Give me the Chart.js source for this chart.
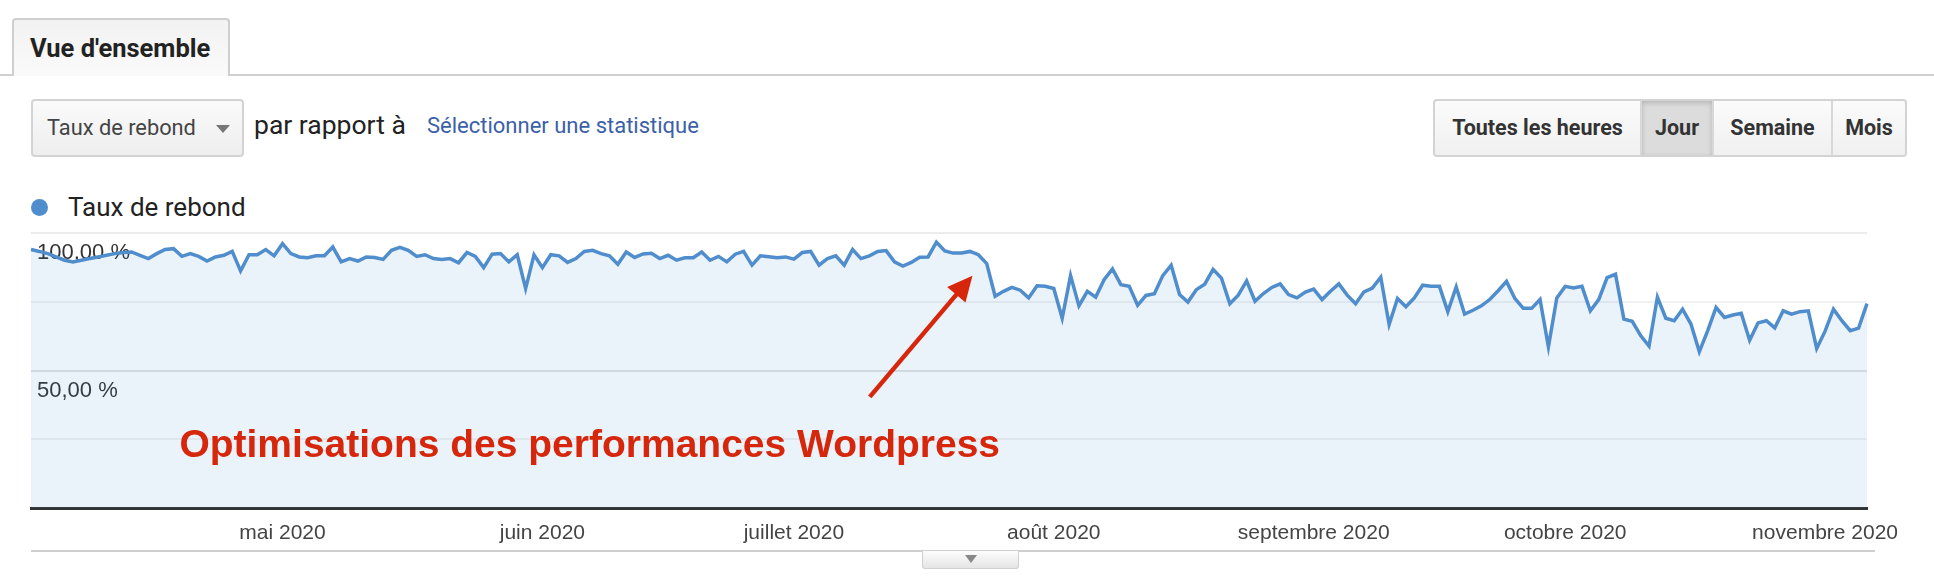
<!DOCTYPE html>
<html>
<head>
<meta charset="utf-8">
<title>Taux de rebond</title>
<script src="https://cdn.jsdelivr.net/npm/chart.js@4.4.1/dist/chart.umd.min.js"></script>
<style>
	body { margin: 0; width: 1934px; height: 586px; background: #fff; position: relative; overflow: hidden; font-family: Roboto, Arial, sans-serif; }
	.rule { position: absolute; left: 0; top: 74px; width: 1934px; height: 2px; background: #cfcfcf; }
	.tab { position: absolute; left: 12px; top: 18px; width: 218px; height: 58px; box-sizing: border-box; border: 2px solid #cfcfcf; border-bottom: none; border-radius: 4px 4px 0 0; background: linear-gradient(#f2f2f2, #fafafa); font-weight: bold; font-size: 25.5px; color: #222; line-height: 56px; padding-left: 16px; }
	.select { position: absolute; left: 31px; top: 99px; width: 213px; height: 58px; box-sizing: border-box; border: 2px solid #d3d3d3; border-radius: 4px; background: linear-gradient(#fafafa, #eeeeee); font-size: 21.8px; color: #444; line-height: 54px; padding-left: 14px; }
	.caret { position: absolute; left: 183px; top: 24px; width: 0; height: 0; border-left: 7px solid transparent; border-right: 7px solid transparent; border-top: 8px solid #777; }
	.par { position: absolute; left: 254px; top: 109px; font-size: 26.5px; color: #222; line-height: 32px; }
	.lien { position: absolute; left: 427px; top: 111px; font-size: 22px; color: #3b60a9; line-height: 30px; }
	.groupe { position: absolute; left: 1433px; top: 99px; height: 58px; display: flex; border: 2px solid #d3d3d3; border-radius: 4px; box-sizing: border-box; background: linear-gradient(#fbfbfb, #f0f0f0); }
	.groupe div { height: 54px; line-height: 54px; text-align: center; font-weight: bold; font-size: 21.5px; color: #333; border-left: 2px solid #d8d8d8; box-sizing: border-box; }
	.groupe div:first-child { border-left: none; }
	.groupe .actif { background: #dcdcdc; box-shadow: inset 0 2px 5px rgba(0,0,0,0.18); }
	.legende { position: absolute; left: 68px; top: 191px; font-size: 26px; color: #222; line-height: 32px; }
	.pt { position: absolute; left: 31px; top: 199px; width: 17px; height: 17px; border-radius: 50%; background: #508dcc; }
	#chart { position: absolute; left: 0; top: 225px; }
	.bas { position: absolute; left: 31px; top: 550px; width: 1844px; height: 2px; background: #cfcfcf; }
	.poignee { position: absolute; left: 922px; top: 551px; width: 97px; height: 18px; box-sizing: border-box; border: 1px solid #d0d0d0; border-top: none; border-radius: 0 0 3px 3px; background: linear-gradient(#fdfdfd, #e4e4e4); }
	.poignee span { position: absolute; left: 42px; top: 4px; width: 0; height: 0; border-left: 6px solid transparent; border-right: 6px solid transparent; border-top: 8px solid #888; }
</style>
</head>
<body>
	<div class="rule"></div>
	<div class="tab">Vue d'ensemble</div>
	<div class="select">Taux de rebond<span class="caret"></span></div>
	<div class="par">par rapport à</div>
	<div class="lien">Sélectionner une statistique</div>
	<div class="groupe">
		<div style="width:205px">Toutes les heures</div>
		<div class="actif" style="width:72px">Jour</div>
		<div style="width:119px">Semaine</div>
		<div style="width:74px">Mois</div>
	</div>
	<span class="pt"></span>
	<div class="legende">Taux de rebond</div>
	<canvas id="chart" width="1934" height="323"></canvas>
	<div class="bas"></div>
	<div class="poignee"><span></span></div>

	<script>
		// taux de rebond journalier (%), du 1er avril au 6 novembre 2020
		var tauxRebond = [
			94.0, 93.3, 92.5, 91.3, 90.1, 89.5, 90.1, 90.7, 91.3, 91.9,
			92.5, 92.9, 93.1, 91.9, 90.7, 92.5, 94.0, 94.3, 91.5, 92.5,
			91.5, 89.8, 91.3, 91.9, 93.3, 86.2, 92.1, 92.1, 94.0, 91.7,
			96.1, 92.5, 91.3, 91.0, 91.7, 91.7, 94.9, 89.5, 90.7, 89.8,
			91.3, 91.1, 90.4, 93.7, 94.8, 93.7, 91.5, 92.1, 90.7, 90.4,
			90.7, 89.2, 92.9, 91.5, 87.4, 92.3, 92.5, 89.5, 92.1, 79.8,
			92.1, 87.4, 92.1, 91.7, 89.3, 90.7, 93.3, 93.7, 92.5, 91.7,
			88.6, 93.1, 91.1, 92.4, 92.6, 90.7, 91.9, 90.1, 91.0, 91.0,
			93.1, 90.1, 91.5, 89.5, 92.3, 93.3, 88.3, 91.7, 91.4, 91.0,
			91.3, 90.5, 92.9, 93.3, 88.3, 90.7, 91.7, 88.3, 94.0, 90.7,
			91.7, 93.3, 93.6, 89.5, 88.0, 89.3, 91.2, 91.3, 96.7, 93.5,
			92.7, 92.7, 93.3, 92.1, 88.9, 77.0, 78.8, 80.2, 79.2, 76.4,
			80.8, 80.6, 79.8, 69.0, 84.5, 73.5, 78.8, 76.7, 83.0, 86.9,
			81.2, 80.6, 73.7, 77.3, 77.9, 84.5, 88.3, 77.6, 74.9, 79.4,
			81.4, 86.8, 83.6, 74.3, 77.4, 82.6, 75.2, 78.0, 80.2, 81.5,
			77.6, 76.4, 78.5, 79.6, 75.8, 78.8, 81.5, 77.4, 74.3, 78.6,
			80.0, 83.9, 66.7, 76.2, 73.2, 76.4, 81.0, 80.6, 80.6, 71.4,
			80.4, 70.5, 71.9, 73.5, 75.8, 79.0, 82.4, 76.2, 72.6, 72.6,
			75.8, 58.6, 76.4, 80.6, 80.0, 80.6, 71.7, 75.8, 83.8, 85.0,
			68.7, 67.9, 62.7, 58.9, 76.7, 69.0, 68.1, 72.3, 66.9, 56.8,
			64.5, 72.9, 69.3, 70.2, 70.8, 61.0, 67.3, 68.1, 65.5, 71.7,
			70.5, 71.4, 71.7, 58.0, 64.3, 72.3, 68.1, 64.5, 65.4, 74.3
		];
		var premierJour = '2020-04-01';
		var moisNoms = ['mai 2020', 'juin 2020', 'juillet 2020', 'août 2020', 'septembre 2020', 'octobre 2020', 'novembre 2020'];
		var moisDebuts = ['2020-05-01', '2020-06-01', '2020-07-01', '2020-08-01', '2020-09-01', '2020-10-01', '2020-11-01'];
		var yLabels = { 100: '100,00 %', 50: '50,00 %' };

		var jours = [];
		var d0 = new Date(premierJour + 'T00:00:00Z');
		for (var i = 0; i < tauxRebond.length; i++) {
			var d = new Date(d0.getTime() + i * 86400000);
			jours.push(d.toISOString().slice(0, 10));
		}

		var bleu = '#508dcc';

		// flèche + texte rouge posés sur les échelles
		var annotation = {
			id: 'annotation',
			afterDraw: function(chart) {
				var ctx = chart.ctx, x = chart.scales.x, y = chart.scales.y;
				ctx.save();
				ctx.fillStyle = '#d6270c';
				ctx.strokeStyle = '#d6270c';
				ctx.font = 'bold 39px Arial, "Liberation Sans", sans-serif';
				ctx.textBaseline = 'alphabetic';
				ctx.fillText('Optimisations des performances Wordpress', x.getPixelForValue(17.7), y.getPixelForValue(18.5));

				var x1 = x.getPixelForValue(100.05), y1 = y.getPixelForValue(40.4);
				var x2 = x.getPixelForValue(112.3), y2 = y.getPixelForValue(84.5);
				var dx = x2 - x1, dy = y2 - y1, len = Math.sqrt(dx * dx + dy * dy);
				var ux = dx / len, uy = dy / len;
				var bx = x2 - ux * 25, by = y2 - uy * 25;
				ctx.lineWidth = 4.5;
				ctx.beginPath();
				ctx.moveTo(x1, y1);
				ctx.lineTo(bx + ux * 3, by + uy * 3);
				ctx.stroke();
				ctx.beginPath();
				ctx.moveTo(x2, y2);
				ctx.lineTo(bx - uy * 12, by + ux * 12);
				ctx.lineTo(bx + uy * 12, by - ux * 12);
				ctx.closePath();
				ctx.fill();
				ctx.restore();
			}
		};

		var canvas = document.getElementById('chart').getContext('2d');
		window.ligne = new Chart(canvas, {
			type: 'line',
			data: {
				labels: jours,
				datasets: [{
					label: 'Taux de rebond',
					data: tauxRebond,
					borderColor: bleu,
					backgroundColor: 'rgba(77,144,205,0.11)',
					borderWidth: 3.5,
					pointRadius: 0,
					tension: 0,
					fill: 'origin'
				}]
			},
			options: {
				responsive: false,
				animation: false,
				devicePixelRatio: 1,
				layout: { padding: { left: 31, right: 67, top: 8, bottom: 0 } },
				plugins: {
					legend: { display: false },
					tooltip: { enabled: false }
				},
				scales: {
					x: {
						offset: false,
						grid: { display: false, drawTicks: false },
						border: { display: true, color: '#333', width: 3 },
						ticks: {
							autoSkip: false,
							maxRotation: 0,
							padding: 13,
							color: '#444',
							font: { family: 'Arial, "Liberation Sans", sans-serif', size: 21 },
							callback: function(value, index) {
								var j = moisDebuts.indexOf(jours[index]);
								return j >= 0 ? moisNoms[j] : '';
							}
						},
						afterFit: function(s) { s.height = 40; s.paddingLeft = 0; s.paddingRight = 0; }
					},
					y: {
						min: 0,
						max: 100,
						z: 1,
						border: { display: false },
						grid: {
							z: -1,
							drawTicks: false,
							lineWidth: 2,
							color: function(c) {
								if (c.tick.value === 0) return 'rgba(0,0,0,0)';
								if (c.tick.value === 100) return '#ececec';
								if (c.tick.value === 50) return '#e2e2e2';
								return '#f1f1f1';
							}
						},
						ticks: {
							stepSize: 25,
							mirror: true,
							padding: 6,
							labelOffset: 20,
							color: '#333',
							textStrokeColor: '#fff',
							textStrokeWidth: 4,
							font: { family: 'Arial, "Liberation Sans", sans-serif', size: 22 },
							callback: function(value) { return yLabels[value] || ''; }
						},
						afterFit: function(s) { s.width = 0; s.paddingTop = 0; s.paddingBottom = 0; }
					}
				}
			},
			plugins: [annotation]
		});
	</script>
</body>
</html>
